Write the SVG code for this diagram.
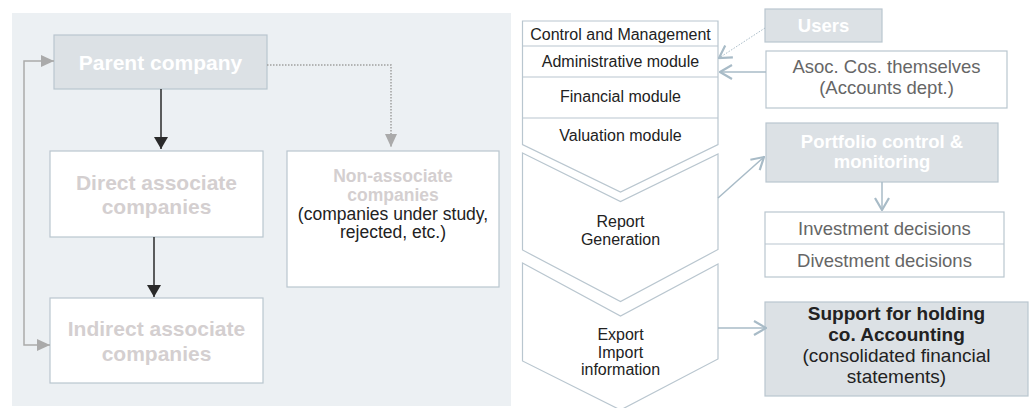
<svg xmlns="http://www.w3.org/2000/svg" width="1032" height="408" viewBox="0 0 1032 408">
<style>
text{font-family:"Liberation Sans",Arial,sans-serif;text-anchor:middle}
.gbox{fill:#DCE1E5;stroke:#B9C6CF;stroke-width:1.2}
.wbox{fill:#FFFFFF;stroke:#B9C6CF;stroke-width:1.2}
.ltb{font-weight:bold;font-size:21px;fill:#D4CFD0}
.wt{font-weight:bold;fill:#FFFFFF}
.mod{font-size:16px;fill:#222222}
.gt{font-size:18.5px;fill:#666666}
.bt{fill:#222222}
.blue{stroke:#A8BBC7;stroke-width:1.5;fill:none}
</style>
<defs>
<marker id="triG" viewBox="0 0 13 12" refX="13" refY="6" markerWidth="13" markerHeight="12" markerUnits="userSpaceOnUse" orient="auto-start-reverse"><path d="M0,0 L13,6 L0,12 z" fill="#AAAAAA"/></marker>
<marker id="triD" viewBox="0 0 12 14" refX="12" refY="7" markerWidth="12" markerHeight="14" markerUnits="userSpaceOnUse" orient="auto"><path d="M0,0 L12,7 L0,14 z" fill="#2A2A2A"/></marker>
<marker id="open" viewBox="0 0 14 16" refX="13" refY="8" markerWidth="14" markerHeight="16" markerUnits="userSpaceOnUse" orient="auto"><path d="M1,1 L13,8 L1,15" fill="none" stroke="#A8BBC7" stroke-width="2.2"/></marker>
</defs>
<rect x="12" y="13" width="499" height="393" fill="#ECF0F3"/>
<g id="parent"><rect class="gbox" x="54" y="35" width="213" height="54"/><text class="wt" x="160.5" y="69.5" font-size="21">Parent company</text></g>
<g id="direct"><rect class="wbox" x="50" y="151" width="213" height="86"/><text class="ltb" x="156.5" y="190">Direct associate</text><text class="ltb" x="156.5" y="214">companies</text></g>
<g id="indirect"><rect class="wbox" x="50" y="298" width="213" height="85"/><text class="ltb" x="156.5" y="336">Indirect associate</text><text class="ltb" x="156.5" y="361">companies</text></g>
<g id="nonassoc"><rect class="wbox" x="287" y="151" width="212" height="136"/><text x="393" y="182" font-size="17.5" font-weight="bold" fill="#D4CFD0">Non-associate</text><text x="393" y="201" font-size="17.5" font-weight="bold" fill="#D4CFD0">companies</text><text class="bt" x="393" y="219.5" font-size="17.5">(companies under study,</text><text class="bt" x="393" y="238" font-size="17.5">rejected, etc.)</text></g>
<g id="modules">
<polygon class="wbox" points="522.5,21 718,21 718,144.5 620.5,192 522.5,144.5"/>
<line x1="522.5" y1="46" x2="718" y2="46" stroke="#B9C6CF" stroke-width="1.2"/>
<line x1="522.5" y1="77" x2="718" y2="77" stroke="#B9C6CF" stroke-width="1.2"/>
<line x1="522.5" y1="118" x2="718" y2="118" stroke="#B9C6CF" stroke-width="1.2"/>
<text class="mod" x="620.5" y="40">Control and Management</text>
<text class="mod" x="620.5" y="67">Administrative module</text>
<text class="mod" x="620.5" y="102">Financial module</text>
<text class="mod" x="620.5" y="141">Valuation module</text>
</g>
<g id="report"><polygon class="wbox" points="522.5,153 620.5,201.5 718,154 718,249.5 620.5,301.5 522.5,250"/><text class="mod" x="620.5" y="227">Report</text><text class="mod" x="620.5" y="245">Generation</text></g>
<g id="export"><polygon class="wbox" points="522.5,263 620.5,316 718,264 718,359 620.5,410 522.5,361"/><text class="mod" x="620.5" y="340">Export</text><text class="mod" x="620.5" y="357.5">Import</text><text class="mod" x="620.5" y="375">information</text></g>
<g id="users"><rect class="gbox" x="765" y="9" width="117" height="33"/><text class="wt" x="823.5" y="32" font-size="18.5">Users</text></g>
<g id="asoc"><rect class="wbox" x="766" y="51" width="241" height="57"/><text class="gt" x="886.5" y="73">Asoc. Cos. themselves</text><text class="gt" x="886.5" y="94">(Accounts dept.)</text></g>
<g id="portfolio"><rect class="gbox" x="766" y="123" width="232" height="59"/><text class="wt" x="882" y="148" font-size="18.5">Portfolio control &amp;</text><text class="wt" x="882" y="168" font-size="18.5">monitoring</text></g>
<g id="decisions"><rect class="wbox" x="765" y="212" width="239" height="65"/><line x1="765" y1="244" x2="1004" y2="244" stroke="#B9C6CF" stroke-width="1.2"/><text class="gt" x="884.5" y="235">Investment decisions</text><text class="gt" x="884.5" y="266.5">Divestment decisions</text></g>
<g id="support"><rect class="gbox" x="765" y="302" width="263" height="94"/><text class="bt" x="896.5" y="320" font-size="19" font-weight="bold">Support for holding</text><text class="bt" x="896.5" y="341" font-size="19" font-weight="bold">co. Accounting</text><text class="bt" x="896.5" y="362" font-size="19">(consolidated financial</text><text class="bt" x="896.5" y="383" font-size="19">statements)</text></g>
<g id="connectors">
<path d="M161,89 V149" stroke="#2A2A2A" stroke-width="1.5" fill="none" marker-end="url(#triD)"/>
<path d="M154,237 V297" stroke="#2A2A2A" stroke-width="1.5" fill="none" marker-end="url(#triD)"/>
<path d="M54,61 H24 V345 H50" stroke="#AAAAAA" stroke-width="1.5" fill="none" marker-start="url(#triG)" marker-end="url(#triG)"/>
<path d="M267,65 H391 V147" stroke="#A0A0A0" stroke-width="1.5" stroke-dasharray="1.5,1.5" fill="none" marker-end="url(#triG)"/>
<path d="M765,28 L719,58" stroke="#A8BBC7" stroke-width="1" stroke-dasharray="1.5,1.5" fill="none" marker-end="url(#open)"/>
<path class="blue" d="M766,72 H720" marker-end="url(#open)"/>
<path class="blue" d="M718,198 L764,157" marker-end="url(#open)"/>
<path class="blue" d="M882,182 V210" marker-end="url(#open)"/>
<path class="blue" d="M718,328 H766" marker-end="url(#open)"/>
</g>
</svg>
